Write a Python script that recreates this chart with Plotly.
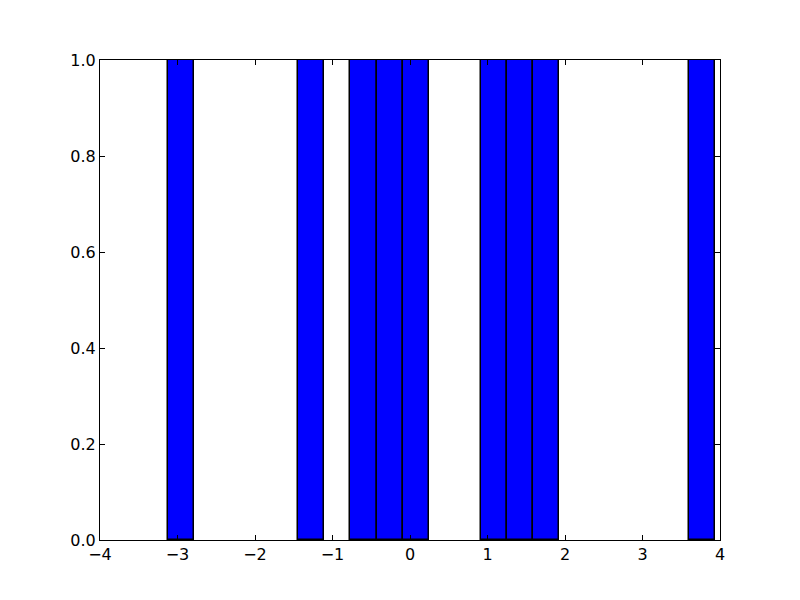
import plotly.graph_objects as go

# sample values (one per filled bin)
values = [-2.955, -1.273, -0.600, -0.264, 0.073, 1.082, 1.418, 1.755, 3.773]
bin_start = -3.123
bin_size = 0.3364
bin_end = 3.94

x_ticks = [-4, -3, -2, -1, 0, 1, 2, 3, 4]
y_ticks = [0.0, 0.2, 0.4, 0.6, 0.8, 1.0]

fig = go.Figure()
fig.add_trace(go.Histogram(
    x=values,
    xbins=dict(start=bin_start, end=bin_end, size=bin_size),
    marker=dict(color="#0000ff", line=dict(color="black", width=1.5)),
))

axis_common = dict(
    showgrid=False, zeroline=False, showline=True, linecolor="black", linewidth=1,
    mirror="allticks", ticks="inside", ticklen=5, tickwidth=1, tickcolor="black",
    tickfont=dict(family="DejaVu Sans", size=16, color="black"),
)
fig.update_xaxes(range=[-4, 4], tickvals=x_ticks, **axis_common)
fig.update_yaxes(range=[0, 1], tickvals=y_ticks, tickformat=".1f", **axis_common)

fig.update_layout(
    width=800, height=600,
    margin=dict(l=100, r=80, t=60, b=60),
    paper_bgcolor="white", plot_bgcolor="white",
    bargap=0, showlegend=False,
)
fig.write_html("out.html", post_script="document.body.style.margin='0';",
               config={"displayModeBar": False})
